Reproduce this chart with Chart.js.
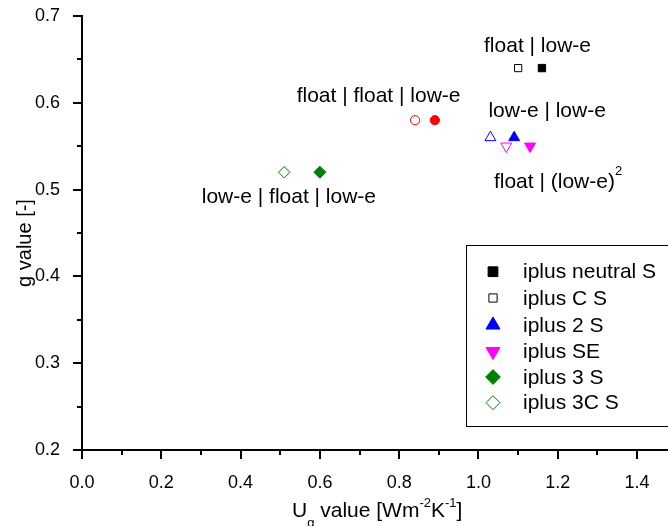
<!DOCTYPE html>
<html><head><meta charset="utf-8">
<script src="https://cdn.jsdelivr.net/npm/chart.js@4.4.0/dist/chart.umd.min.js"></script>
<style>html,body{margin:0;padding:0;background:#fff;overflow:hidden}#wrap{width:668px;height:526px}</style>
</head><body><div id="wrap"><canvas id="c" width="668" height="526"></canvas></div>
<script>
// ---- data ----
const xTicks = [0.0, 0.2, 0.4, 0.6, 0.8, 1.0, 1.2, 1.4];
const xTickLabels = ['0.0', '0.2', '0.4', '0.6', '0.8', '1.0', '1.2', '1.4'];
const xMinorTicks = [0.1, 0.3, 0.5, 0.7, 0.9, 1.1, 1.3];
const yTicks = [0.2, 0.3, 0.4, 0.5, 0.6, 0.7];
const yTickLabels = ['0.2', '0.3', '0.4', '0.5', '0.6', '0.7'];
const yMinorTicks = [0.25, 0.35, 0.45, 0.55, 0.65];
const xMin = 0, xMax = 1.478, yMin = 0.2, yMax = 0.7;

const neutralS = [{x: 1.16, y: 0.64}];
const cS = [{x: 1.10, y: 0.64}];
const twoS = [{x: 1.09, y: 0.56}];
const twoSOpen = [{x: 1.03, y: 0.56}];
const sE = [{x: 1.13, y: 0.55}];
const sEOpen = [{x: 1.07, y: 0.55}];
const threeS = [{x: 0.60, y: 0.52}];
const threeCS = [{x: 0.51, y: 0.52}];
const redFilled = [{x: 0.89, y: 0.58}];
const redOpen = [{x: 0.84, y: 0.58}];

const legendNames = ['iplus neutral S', 'iplus C S', 'iplus 2 S', 'iplus SE', 'iplus 3 S', 'iplus 3C S'];

const annotations = [
  {x: 1.014, y: 0.658, parts: [{t: 'float | low-e'}]},
  {x: 0.5415, y: 0.601, parts: [{t: 'float | float | low-e'}]},
  {x: 1.025, y: 0.5838, parts: [{t: 'low-e | low-e'}]},
  {x: 1.039, y: 0.5014, parts: [{t: 'float | (low-e)'}, {t: '2', sup: true}]},
  {x: 0.302, y: 0.4841, parts: [{t: 'low-e | float | low-e'}]}
];

const xTitleParts = [{t: 'U'}, {t: 'g', sub: true}, {t: ' value [Wm'}, {t: '-2', sup: true}, {t: 'K'}, {t: '-1', sup: true}, {t: ']'}];
const yTitle = 'g value [-]';

const FONT = "'Liberation Sans', Arial, sans-serif";
const BLUE = '#0000ff', MAG = '#ff00ff', GREEN = '#008000', RED = '#ff0000', BLACK = '#000000';

function ds(label, data, style, r, rot, fill, stroke, inLegend, legR) {
  return {label, data, pointStyle: style, pointRadius: r, pointHoverRadius: r, pointRotation: rot,
    backgroundColor: fill, borderColor: stroke, borderWidth: 1, showLine: false,
    _inLegend: inLegend, _legR: legR};
}

const datasets = [
  ds(legendNames[0], neutralS, 'rect', 5.2, 0, BLACK, BLACK, true, 6.9),
  ds(legendNames[1], cS, 'rect', 5.1, 0, '#ffffff', BLACK, true, 5.8),
  ds(legendNames[2], twoS, 'triangle', 6.3, 0, BLUE, BLUE, true, 8.1),
  ds(legendNames[3], sE, 'triangle', 6.3, 180, MAG, MAG, true, 8.1),
  ds(legendNames[4], threeS, 'rectRot', 6.0, 0, GREEN, GREEN, true, 7.4),
  ds(legendNames[5], threeCS, 'rectRot', 5.7, 0, '#ffffff', GREEN, true, 7.0),
  ds('iplus 2 S (open)', twoSOpen, 'triangle', 6.3, 0, '#ffffff', BLUE, false),
  ds('iplus SE (open)', sEOpen, 'triangle', 6.3, 180, '#ffffff', MAG, false),
  ds('float | float | low-e (filled)', redFilled, 'circle', 4.6, 0, RED, RED, false),
  ds('float | float | low-e (open)', redOpen, 'circle', 4.6, 0, '#ffffff', RED, false)
];

function drawParts(ctx, parts, x, y, size, small, supDy, subDy) {
  let cx = x;
  for (const p of parts) {
    const fs = (p.sup || p.sub) ? small : size;
    ctx.font = fs + 'px ' + FONT;
    const dy = p.sup ? supDy : (p.sub ? subDy : 0);
    ctx.fillText(p.t, cx, y + dy);
    cx += ctx.measureText(p.t).width;
  }
  return cx - x;
}

const decor = {
  id: 'decor',
  afterDraw(chart) {
    const ctx = chart.ctx;
    const xs = chart.scales.x, ys = chart.scales.y;
    const ca = chart.chartArea;
    ctx.save();
    ctx.strokeStyle = BLACK;
    ctx.fillStyle = BLACK;
    ctx.lineWidth = 2;
    // tick marks
    ctx.beginPath();
    for (const v of xTicks) { const px = Math.round(xs.getPixelForValue(v)); ctx.moveTo(px, ca.bottom); ctx.lineTo(px, ca.bottom + 9); }
    for (const v of xMinorTicks) { const px = Math.round(xs.getPixelForValue(v)); ctx.moveTo(px, ca.bottom); ctx.lineTo(px, ca.bottom + 5); }
    for (const v of yTicks) { const py = Math.round(ys.getPixelForValue(v)); ctx.moveTo(ca.left, py); ctx.lineTo(ca.left - 9, py); }
    for (const v of yMinorTicks) { const py = Math.round(ys.getPixelForValue(v)); ctx.moveTo(ca.left, py); ctx.lineTo(ca.left - 5, py); }
    ctx.stroke();

    // annotations
    ctx.textAlign = 'left';
    ctx.textBaseline = 'alphabetic';
    for (const a of annotations) {
      drawParts(ctx, a.parts, xs.getPixelForValue(a.x), ys.getPixelForValue(a.y), 21, 13, -13, 7);
    }

    // x title
    drawParts(ctx, xTitleParts, 292, 517, 21, 13, -10, 10);

    // y title
    ctx.save();
    ctx.translate(31, 243);
    ctx.rotate(-Math.PI / 2);
    ctx.textAlign = 'center';
    ctx.font = '20px ' + FONT;
    ctx.fillText(yTitle, 0, 0);
    ctx.restore();

    // legend
    ctx.lineWidth = 1;
    ctx.strokeStyle = BLACK;
    ctx.strokeRect(466.5, 245.5, 300, 181);
    const rows = [271.7, 298, 325, 351.5, 377, 402.7];
    let i = 0;
    ctx.textBaseline = 'middle';
    for (const d of chart.data.datasets) {
      if (!d._inLegend) continue;
      const y = rows[i];
      ctx.fillStyle = d.backgroundColor;
      ctx.strokeStyle = d.borderColor;
      ctx.lineWidth = 1;
      Chart.helpers.drawPoint(ctx, {pointStyle: d.pointStyle, rotation: d.pointRotation, radius: d._legR, borderWidth: 1}, 493, y);
      ctx.fillStyle = BLACK;
      ctx.font = '21px ' + FONT;
      ctx.fillText(d.label, 523, y + 1);
      i++;
    }
    ctx.restore();
  }
};

function noPad(s) { s.paddingTop = 0; s.paddingBottom = 0; s.paddingLeft = 0; s.paddingRight = 0; }

const tickFont = {family: FONT, size: 18};
new Chart(document.getElementById('c'), {
  type: 'scatter',
  data: {datasets},
  options: {
    responsive: false, animation: false, devicePixelRatio: 1,
    layout: {autoPadding: false, padding: {top: 16, left: 0, right: 0, bottom: 0}},
    plugins: {legend: {display: false}, tooltip: {enabled: false}},
    scales: {
      x: {
        type: 'linear', min: xMin, max: xMax,
        afterBuildTicks: s => { s.ticks = xTicks.map(v => ({value: v})); },
        afterFit: s => { s.height = 76; noPad(s); },
        grid: {display: false},
        border: {display: true, color: BLACK, width: 2},
        ticks: {padding: 14, color: BLACK, font: tickFont, maxRotation: 0, autoSkip: false,
          callback: (v, i) => xTickLabels[i]}
      },
      y: {
        type: 'linear', min: yMin, max: yMax,
        afterBuildTicks: s => { s.ticks = yTicks.map(v => ({value: v})); },
        afterFit: s => { s.width = 82; noPad(s); },
        grid: {display: false},
        border: {display: true, color: BLACK, width: 2},
        ticks: {padding: 14, color: BLACK, font: tickFont, autoSkip: false,
          callback: (v, i) => yTickLabels[i]}
      }
    }
  },
  plugins: [decor]
});
</script>
</body></html>
